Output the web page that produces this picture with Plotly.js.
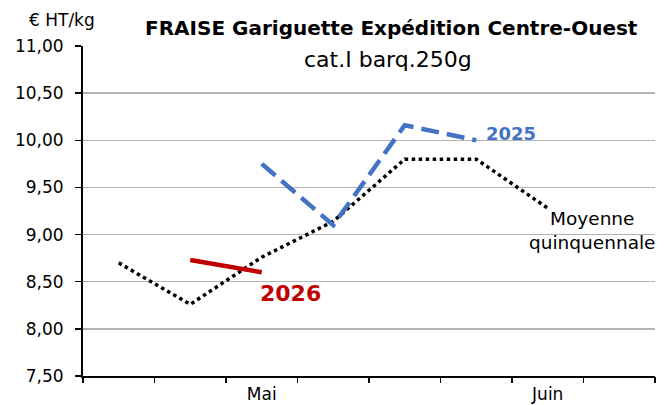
<!DOCTYPE html>
<html>
<head>
<meta charset="utf-8">
<script src="https://cdn.plot.ly/plotly-3.0.1.min.js"></script>
<style>html,body{margin:0;padding:0;background:#fff;}#chart{width:670px;height:405px;}</style>
</head>
<body>
<div id="chart"></div>
<script>
const weeks = ["S17","S18","S19","S20","S21","S22","S23","S24"];
const monthTickWeeks = ["S19","S23"];
const monthTickText = ["Mai","Juin"];
const avg5 = [8.70, 8.26, 8.76, 9.14, 9.80, 9.80, 9.28, null];
const y2025 = [null, null, 9.75, 9.10, 10.16, 10.00, null, null];
const y2026 = [null, 8.73, 8.60, null, null, null, null, null];
const yTicks = [7.5, 8, 8.5, 9, 9.5, 10, 10.5, 11];

const boundaries = weeks.map((w, i) => i - 0.5).concat([weeks.length - 0.5]);
const FONT = '"DejaVu Sans", Verdana, sans-serif';

const traces = [
  {x: weeks, y: avg5, type: 'scatter', mode: 'lines', name: 'Moyenne quinquennale',
   line: {color: '#000000', width: 3.5, dash: 'dot'}},
  {x: weeks, y: y2025, type: 'scatter', mode: 'lines', name: '2025',
   line: {color: '#4472c4', width: 4.5, dash: '18px,8px'}},
  {x: weeks, y: y2026, type: 'scatter', mode: 'lines', name: '2026',
   line: {color: '#c00000', width: 4.5}},
  {x: [boundaries[0], boundaries[boundaries.length-1]], y: [null, null], xaxis: 'x2', yaxis: 'y',
   type: 'scatter', mode: 'lines', showlegend: false, hoverinfo: 'skip'}
];

const layout = {
  width: 670, height: 405,
  margin: {l: 83, r: 15, t: 46, b: 29},
  paper_bgcolor: '#ffffff', plot_bgcolor: '#ffffff',
  showlegend: false,
  separators: ',.',
  font: {family: FONT, color: '#000'},
  xaxis: {
    type: 'category', categoryorder: 'array', categoryarray: weeks,
    range: [-0.5, weeks.length - 0.5],
    tickmode: 'array', tickvals: monthTickWeeks, ticktext: monthTickText,
    ticks: '', showgrid: false, zeroline: false,
    showline: true, linecolor: '#000', linewidth: 2,
    tickfont: {family: FONT, size: 17, color: '#000'},
    ticklabelstandoff: 2
  },
  xaxis2: {
    overlaying: 'x', anchor: 'y', range: [-0.5, weeks.length - 0.5],
    tickmode: 'array', tickvals: boundaries, ticktext: boundaries.map(() => ''),
    ticks: 'outside', ticklen: 6, tickwidth: 1.5, tickcolor: '#000',
    showgrid: false, zeroline: false, showline: false, showticklabels: false
  },
  yaxis: {
    range: [7.5, 11], tickmode: 'array', tickvals: yTicks,
    tickformat: '.2f',
    showgrid: true, gridcolor: '#b3b3b3', gridwidth: 1.5,
    zeroline: false, showline: true, linecolor: '#000', linewidth: 2,
    ticks: 'outside', ticklen: 6, tickwidth: 1.5, tickcolor: '#000',
    tickfont: {family: FONT, size: 17, color: '#000'},
    ticklabelstandoff: 8
  },
  annotations: [
    {text: '<b>FRAISE Gariguette Expédition Centre-Ouest</b>', xref: 'paper', yref: 'paper',
     x: 0.54, y: 1.0545, xanchor: 'center', yanchor: 'middle', showarrow: false,
     font: {family: FONT, size: 20, color: '#000'}},
    {text: 'cat.I barq.250g', xref: 'paper', yref: 'paper',
     x: 0.533, y: 0.958, xanchor: 'center', yanchor: 'middle', showarrow: false,
     font: {family: FONT, size: 22, color: '#000'}},
    {text: '€ HT/kg', xref: 'paper', yref: 'paper',
     x: -0.037, y: 1.079, xanchor: 'center', yanchor: 'middle', showarrow: false,
     font: {family: FONT, size: 17, color: '#000'}},
    {text: '<b>2026</b>', xref: 'x', yref: 'y', x: 2.4, y: 8.37,
     xanchor: 'center', yanchor: 'middle', showarrow: false,
     font: {family: FONT, size: 22, color: '#c00000'}},
    {text: '<b>2025</b>', xref: 'x', yref: 'y', x: 5.49, y: 10.07,
     xanchor: 'center', yanchor: 'middle', showarrow: false,
     font: {family: FONT, size: 18, color: '#4472c4'}},
    {text: 'Moyenne<br>quinquennale', xref: 'x', yref: 'y', x: 6.63, y: 9.04,
     xanchor: 'center', yanchor: 'middle', showarrow: false, align: 'center',
     font: {family: FONT, size: 18.5, color: '#000'}}
  ]
};

Plotly.newPlot('chart', traces, layout, {displayModeBar: false, staticPlot: true});
</script>
</body>
</html>
